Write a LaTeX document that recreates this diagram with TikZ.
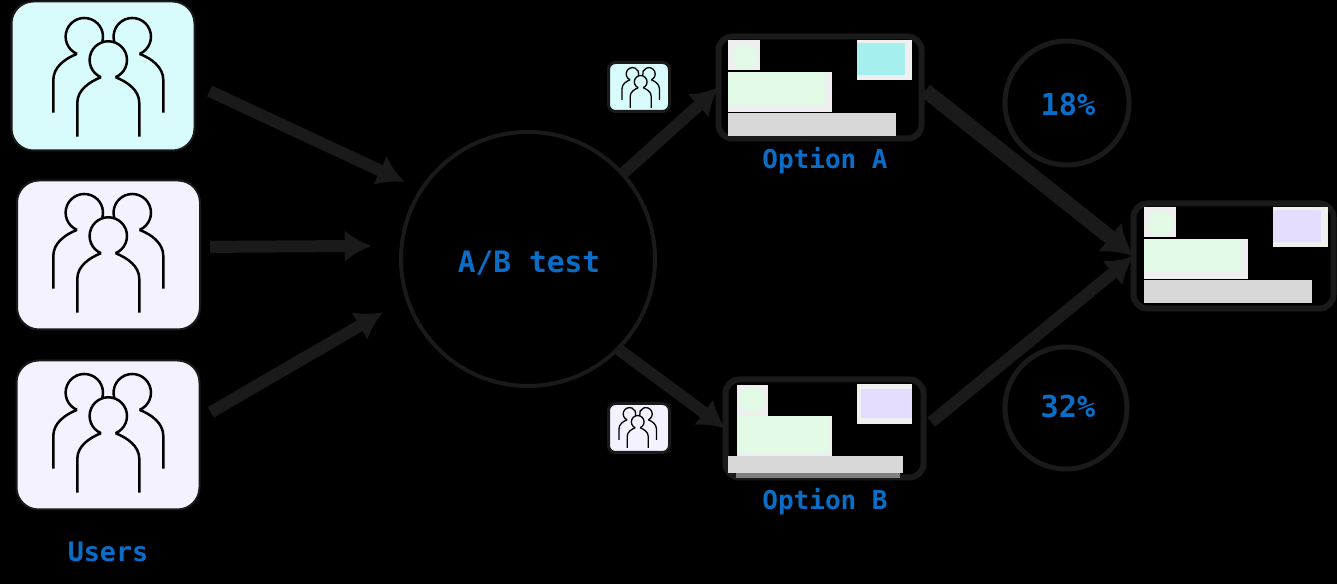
\documentclass[tikz,border=0pt]{standalone}
\usepackage{fontspec}
\usetikzlibrary{arrows.meta}
\newfontfamily\lblfont{DejaVu Sans Mono}
\definecolor{dark}{HTML}{1A1A1A}
\definecolor{lblblue}{HTML}{0A6EC8}
\definecolor{cyanbg}{HTML}{D8FBFB}
\definecolor{lilacbg}{HTML}{F4F2FF}
\definecolor{cardgreen}{HTML}{E2F9E5}
\definecolor{cardgray}{HTML}{D8D8D8}
\definecolor{cardhalo}{HTML}{EFEFEF}
\definecolor{cardteal}{HTML}{A5F0EE}
\definecolor{cardlilac}{HTML}{E6DCFD}
\tikzset{
    usersbox/.style={draw=dark,line width=.02cm,rounded corners=.22cm,inner sep=0,outer sep=0,minimum width=1.83cm,minimum height=1.49cm},
    groupbox/.style={draw=dark,line width=.03cm,rounded corners=.07cm,inner sep=0,outer sep=0,minimum width=.61cm,minimum height=.49cm},
    card/.style={draw=dark,line width=.06cm,rounded corners=.14cm,inner sep=0,outer sep=0},
    ring/.style={circle,draw=dark,inner sep=0,outer sep=0},
    lbl/.style={text=lblblue,font=\lblfont\bfseries\fontsize{#1}{10}\selectfont},
    flow/.style={draw=dark,line width=.12cm,-{Latex[length=.27cm,width=.32cm]}},
    flowthick/.style={draw=dark,line width=.15cm,-{Latex[length=.3cm,width=.38cm]}},
    pics/people/.style={code={
        \draw (-.073,-.022) arc(247:-67:.187);
        \draw (-.073,-.022) .. controls (-.19,-.07) and (-.31,-.15) .. (-.31,-.28) -- (-.31,-.617);
        \draw (.073,-.022) .. controls (.19,-.07) and (.31,-.15) .. (.31,-.28) -- (.31,-.617);
        \draw (-.313,.211) arc(247:-15:.187);
        \draw (-.313,.211) .. controls (-.43,.165) and (-.55,.08) .. (-.55,-.05) -- (-.55,-.377);
        \draw (.313,.211) arc(-67:195:.187);
        \draw (.313,.211) .. controls (.43,.165) and (.55,.08) .. (.55,-.05) -- (.55,-.377);
    }},
    pics/cardface/.style={code={
        \fill[cardhalo] (-.92,.475) rectangle (-.60,.175);
        \fill[cardgreen] (-.75,.305) circle(.13);
        \fill[cardhalo] (-.92,.155) rectangle (.12,-.245);
        \fill[cardgreen] (-.92,.155) rectangle (.05,-.175);
        \fill[cardgray] (-.92,-.255) rectangle (.76,-.485);
        \fill[cardhalo] (.37,.475) rectangle (.92,.075);
        \fill[#1] (.37,.445) rectangle (.85,.125);
    }}
}
\begin{document}
\begin{tikzpicture}
    \fill[black] (0,0) rectangle (13.37,5.84);
    \useasboundingbox (0,0) rectangle (13.37,5.84);

    \node[usersbox,fill=cyanbg] (usersA) at (1.03,5.08) {};
    \node[usersbox,fill=lilacbg] (usersB) at (1.085,3.29) {};
    \node[usersbox,fill=lilacbg] (usersC) at (1.08,1.49) {};
    \node[lbl=7.6] (usersLabel) at (1.08,.32) {Users};

    \pic[line width=.025cm,black] at (1.083,5.09) {people};
    \pic[line width=.025cm,black] at (1.083,3.33) {people};
    \pic[line width=.025cm,black] at (1.083,1.53) {people};

    \node[ring,line width=.04cm,minimum size=2.54cm] (abtest) at (5.28,3.25) {};
    \node[lbl=8.4] (abtestLabel) at (5.29,3.21) {A/B test};

    \node[groupbox,fill=cyanbg] (groupA) at (6.39,4.97) {};
    \node[groupbox,fill=lilacbg] (groupB) at (6.39,1.56) {};
    \pic[scale=.34,line width=.013cm,black] at (6.407,4.97) {people};
    \pic[scale=.34,line width=.013cm,black] at (6.377,1.57) {people};

    \node[card,minimum width=2.03cm,minimum height=1.02cm] (optionA) at (8.2,4.965) {};
    \node[card,minimum width=1.98cm,minimum height=.98cm] (optionB) at (8.245,1.555) {};
    \node[card,minimum width=2cm,minimum height=1.05cm] (cardWin) at (12.335,3.28) {};
    \node[lbl=7.4] (optionALabel) at (8.25,4.23) {Option A};
    \node[lbl=7.4] (optionBLabel) at (8.25,.82) {Option B};

    \pic at (8.2,4.965) {cardface=cardteal};
    \pic at (12.36,3.295) {cardface=cardlilac};

    \fill[cardhalo] (7.37,1.99) rectangle (7.68,1.68);
    \fill[cardgreen] (7.52,1.84) circle(.13);
    \fill[cardhalo] (7.37,1.68) rectangle (8.32,1.28);
    \fill[cardgreen] (7.37,1.68) rectangle (8.30,1.31);
    \fill[gray] (7.36,1.13) rectangle (9.0,1.06);
    \fill[cardgray] (7.28,1.28) rectangle (9.03,1.11);
    \fill[cardhalo] (8.57,2.0) rectangle (9.12,1.6);
    \fill[cardlilac] (8.61,1.95) rectangle (9.12,1.66);

    \node[ring,line width=.05cm,minimum size=1.24cm] (pctA) at (10.67,4.81) {};
    \node[ring,line width=.05cm,minimum size=1.22cm] (pctB) at (10.66,1.76) {};
    \node[lbl=8.6] (pctALabel) at (10.68,4.79) {18\%};
    \node[lbl=8.6] (pctBLabel) at (10.68,1.77) {32\%};

    \draw[flow,shorten <=.166cm,shorten >=.186cm] (usersA.-5) -- (abtest.147);
    \draw[flow,shorten <=.1cm,shorten >=.3cm] (usersB.5) -- (abtest.174.6);
    \draw[flow,shorten <=.13cm,shorten >=.28cm] (usersC.10.6) -- (abtest.198.4);
    \draw[flow] (abtest.42) -- (optionA.west);
    \draw[flow] (abtest.-45) -- (optionB.west);
    \draw[flowthick,shorten <=.05cm] (optionA.east) -- (cardWin.west);
    \draw[flow,shorten <=.1cm] (optionB.east) -- (cardWin.west);
\end{tikzpicture}
\end{document}
